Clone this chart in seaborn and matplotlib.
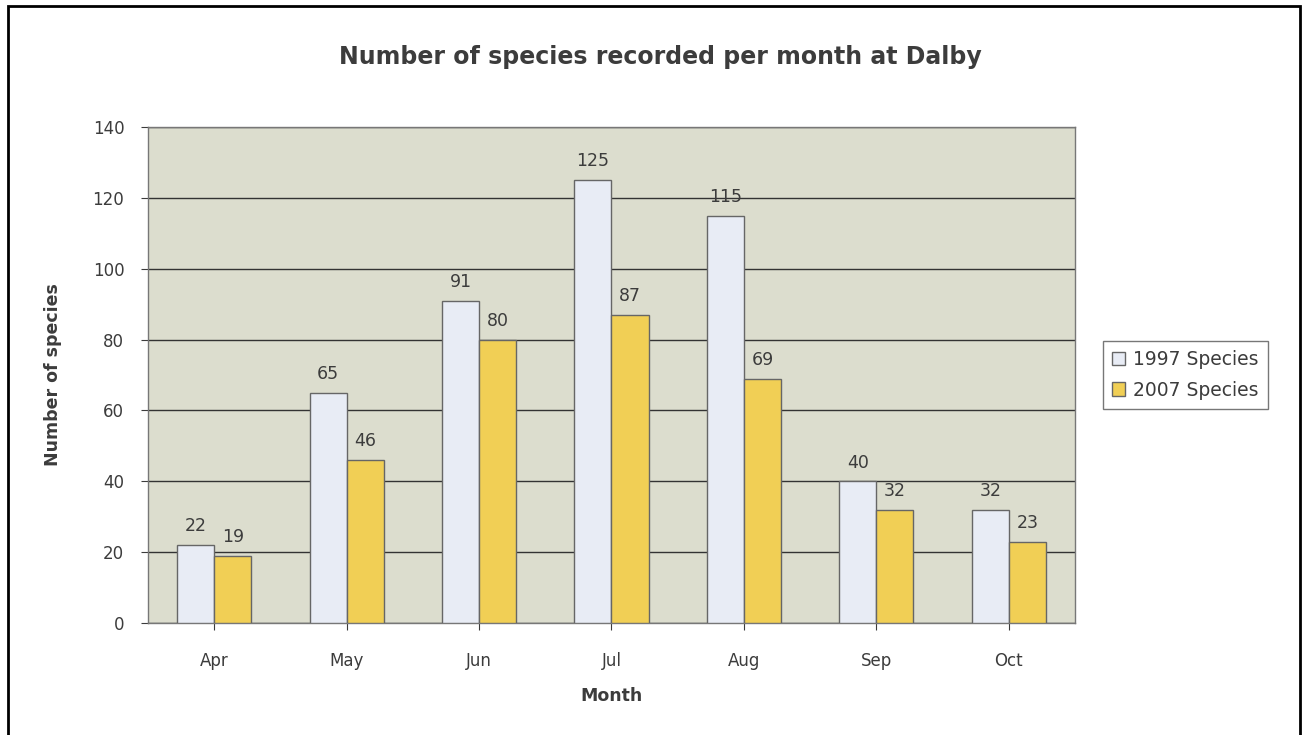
import pandas as pd
import matplotlib.pyplot as plt
import seaborn as sns
from matplotlib.patches import Rectangle

# ── Data ────────────────────────────────────────────────────────────────
months = ['Apr', 'May', 'Jun', 'Jul', 'Aug', 'Sep', 'Oct']
species_1997 = [22, 65, 91, 125, 115, 40, 32]
species_2007 = [19, 46, 80, 87, 69, 32, 23]
series = ['1997 Species', '2007 Species']

df = pd.DataFrame({
    'Month': months * 2,
    'Species': species_1997 + species_2007,
    'Series': [series[0]] * len(months) + [series[1]] * len(months),
})

# ── Styling ─────────────────────────────────────────────────────────────
sns.set_style('white')
plt.rcParams['font.family'] = ['DejaVu Sans']
TXT = '#3c3c3c'
PALETTE = {'1997 Species': '#E8ECF5', '2007 Species': '#F1CF55'}

fig = plt.figure(figsize=(13.07, 7.35), dpi=100)
fig.patch.set_facecolor('white')
ax = fig.add_axes([0.1132, 0.1524, 0.7093, 0.6748])
ax.set_facecolor('#DCDDCE')

sns.barplot(data=df, x='Month', y='Species', hue='Series', palette=PALETTE,
            saturation=1, width=0.56, gap=0, edgecolor='#666666',
            linewidth=1.0, ax=ax, zorder=3)

ax.set_ylim(0, 140)
ax.set_yticks(range(0, 141, 20))
ax.yaxis.grid(True, color='#333333', linewidth=1.0, zorder=0)
ax.set_axisbelow(True)
for s in ax.spines.values():
    s.set_color('#777777')
    s.set_linewidth(1.0)

for cont in ax.containers:
    ax.bar_label(cont, padding=7, fontsize=12.5, color=TXT)

ax.tick_params(axis='y', labelsize=12, colors=TXT, length=5, pad=12,
               direction='out', left=True)
ax.tick_params(axis='x', labelsize=12, colors=TXT, length=5, pad=16,
               direction='out', bottom=True)
ax.set_xlabel('Month', fontsize=12.5, fontweight='bold', color=TXT, labelpad=12)
ax.set_ylabel('Number of species', fontsize=12.5, fontweight='bold', color=TXT,
              labelpad=22)
fig.text(0.505, 0.922, 'Number of species recorded per month at Dalby',
         ha='center', va='center', fontsize=17, fontweight='bold', color=TXT)

leg = ax.legend(loc='center left', bbox_to_anchor=(1.02, 0.5), fontsize=13.5,
                frameon=True, fancybox=False, edgecolor='#555555',
                handlelength=0.7, handleheight=0.7, handletextpad=0.4,
                borderpad=0.5, labelspacing=0.6)
for t in leg.get_texts():
    t.set_color(TXT)
leg.get_frame().set_linewidth(1.0)

# outer chart border
fig.patches.append(Rectangle((8 / 1307, -0.01), 1292 / 1307, 1 - 6 / 735 + 0.01,
                             transform=fig.transFigure, fill=False,
                             edgecolor='black', linewidth=2))

plt.savefig('out.png', dpi=100)
plt.close()
